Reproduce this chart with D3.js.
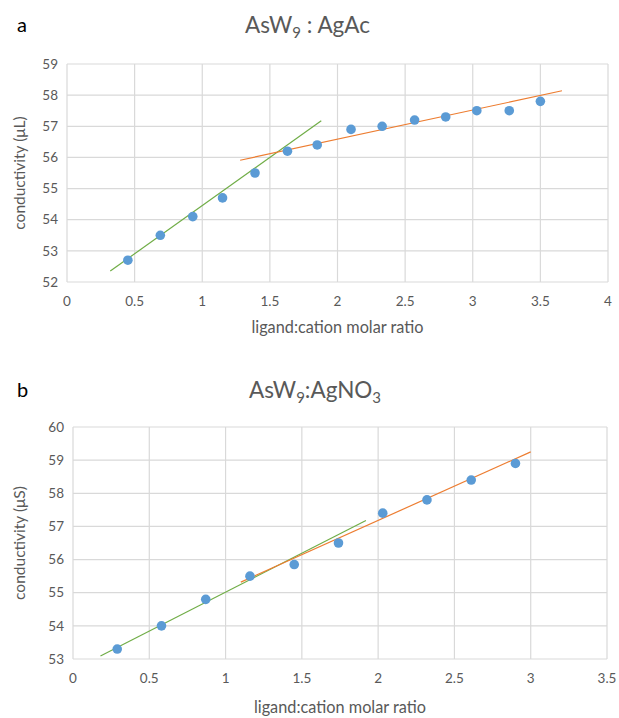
<!DOCTYPE html>
<html>
<head>
<meta charset="utf-8">
<script src="https://cdn.jsdelivr.net/npm/d3@7"></script>
<style>
  body { margin: 0; background: #fff; }
  svg text { font-family: Lato, "Open Sans", sans-serif; }
</style>
</head>
<body>
<script>
// panel a: AsW9 : AgAc
const ratioA = [0.45, 0.69, 0.93, 1.15, 1.39, 1.63, 1.85, 2.10, 2.33, 2.57, 2.80, 3.03, 3.27, 3.50];
const condA  = [52.7, 53.5, 54.1, 54.7, 55.5, 56.2, 56.4, 56.9, 57.0, 57.2, 57.3, 57.5, 57.5, 57.8];
const greenA = [[0.32, 52.35], [1.88, 57.18]];
const orangeA = [[1.28, 55.91], [3.66, 58.14]];
const xTicksA = [0, 0.5, 1, 1.5, 2, 2.5, 3, 3.5, 4];
const yTicksA = [52, 53, 54, 55, 56, 57, 58, 59];

// panel b: AsW9:AgNO3
const ratioB = [0.29, 0.58, 0.87, 1.16, 1.45, 1.74, 2.03, 2.32, 2.61, 2.90];
const condB  = [53.3, 54.0, 54.8, 55.5, 55.85, 56.5, 57.4, 57.8, 58.4, 58.9];
const greenB = [[0.18, 53.09], [1.92, 57.18]];
const orangeB = [[1.10, 55.32], [3.0, 59.25]];
const xTicksB = [0, 0.5, 1, 1.5, 2, 2.5, 3, 3.5];
const yTicksB = [53, 54, 55, 56, 57, 58, 59, 60];

const width = 619, height = 718;
const svg = d3.select("body").append("svg")
  .attr("width", width).attr("height", height);

const grey = "#595959";

function panel(opt) {
  const x = d3.scaleLinear().domain(d3.extent(opt.xTicks)).range([opt.left, opt.right]);
  const y = d3.scaleLinear().domain(d3.extent(opt.yTicks)).range([opt.bottom, opt.top]);
  const g = svg.append("g");

  // grid
  g.append("g").selectAll("line").data(opt.xTicks).join("line")
    .attr("x1", d => x(d)).attr("x2", d => x(d))
    .attr("y1", opt.top).attr("y2", opt.bottom)
    .attr("stroke", "#d9d9d9").attr("stroke-width", 1.2);
  g.append("g").selectAll("line").data(opt.yTicks).join("line")
    .attr("y1", d => y(d)).attr("y2", d => y(d))
    .attr("x1", opt.left).attr("x2", opt.right)
    .attr("stroke", "#d9d9d9").attr("stroke-width", 1.2);

  // tick labels
  g.append("g").selectAll("text").data(opt.xTicks).join("text")
    .attr("x", d => x(d)).attr("y", opt.bottom + 24)
    .attr("text-anchor", "middle").attr("font-size", 13.5).attr("fill", grey)
    .text(d => d);
  g.append("g").selectAll("text").data(opt.yTicks).join("text")
    .attr("x", opt.left - 9).attr("y", d => y(d)).attr("dy", "0.35em")
    .attr("text-anchor", "end").attr("font-size", 13.5).attr("fill", grey)
    .text(d => d);

  // trend lines
  const line = d3.line().x(d => x(d[0])).y(d => y(d[1]));
  g.append("path").attr("d", line(opt.green))
    .attr("fill", "none").attr("stroke", "#70ad47").attr("stroke-width", 1.2);
  g.append("path").attr("d", line(opt.orange))
    .attr("fill", "none").attr("stroke", "#ed7d31").attr("stroke-width", 1.2);

  // points
  g.append("g").selectAll("circle").data(opt.xs).join("circle")
    .attr("cx", d => x(d)).attr("cy", (d, i) => y(opt.ys[i]))
    .attr("r", 4.8).attr("fill", "#5b9bd5");

  // title with subscripts
  const t = g.append("text").attr("x", opt.titleX).attr("y", opt.titleY)
    .attr("text-anchor", "middle").attr("font-size", 22.5).attr("fill", grey);
  opt.title.forEach(([s, sub], i) => {
    const ts = t.append("tspan").text(s);
    const prevSub = i > 0 && opt.title[i - 1][1];
    if (sub) ts.attr("font-size", 15).attr("dy", 5);
    else if (prevSub) ts.attr("dy", -5);
  });

  g.append("text").attr("x", 17).attr("y", opt.titleY - 1)
    .attr("font-family", "'Liberation Sans', Arial, sans-serif")
    .attr("font-size", 20).attr("fill", "#000").text(opt.label);

  g.append("text")
    .attr("transform", `translate(25, ${(opt.top + opt.bottom) / 2}) rotate(-90)`)
    .attr("text-anchor", "middle").attr("font-size", 15.5).attr("fill", grey)
    .text(opt.yLabel);
  g.append("text").attr("x", (opt.left + opt.right) / 2).attr("y", opt.bottom + opt.xLabelGap)
    .attr("text-anchor", "middle").attr("font-size", 16.3).attr("fill", grey)
    .text("ligand:cation molar ratio");
}

panel({
  xs: ratioA, ys: condA, green: greenA, orange: orangeA,
  xTicks: xTicksA, yTicks: yTicksA,
  left: 67, right: 608, top: 64, bottom: 282, xLabelGap: 51,
  titleX: 307.5, titleY: 33,
  title: [["AsW"], ["9", true], [" : AgAc"]],
  label: "a", yLabel: "conductivity (\u03bcL)"
});

panel({
  xs: ratioB, ys: condB, green: greenB, orange: orangeB,
  xTicks: xTicksB, yTicks: yTicksB,
  left: 73, right: 607, top: 427, bottom: 659, xLabelGap: 54,
  titleX: 315, titleY: 398,
  title: [["AsW"], ["9", true], [":AgNO"], ["3", true]],
  label: "b", yLabel: "conductivity (\u03bcS)"
});
</script>
</body>
</html>
